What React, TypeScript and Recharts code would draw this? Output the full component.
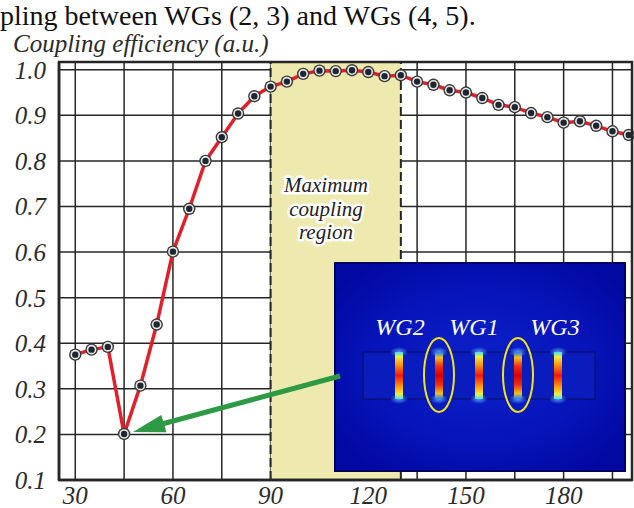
import {
  LineChart,
  Line,
  XAxis,
  YAxis,
  CartesianGrid,
  ReferenceArea,
  ReferenceLine,
} from "recharts";

// gap (nm) vs coupling efficiency
const gaps = [
  30, 35, 40, 45, 50, 55, 60, 65, 70, 75, 80, 85, 90, 95, 100, 105, 110, 115,
  120, 125, 130, 135, 140, 145, 150, 155, 160, 165, 170, 175, 180, 185, 190,
  195, 200,
];
const efficiency = [
  0.375, 0.386, 0.392, 0.201, 0.307, 0.441, 0.601, 0.695, 0.8, 0.852, 0.904,
  0.942, 0.963, 0.974, 0.991, 0.998, 0.997, 0.999, 0.995, 0.986, 0.988, 0.974,
  0.967, 0.955, 0.95, 0.938, 0.923, 0.918, 0.905, 0.896, 0.884, 0.887, 0.877,
  0.865, 0.857,
];
const xTicks = [30, 45, 60, 75, 90, 105, 120, 135, 150, 165, 180, 195];
const yTicks = [0.1, 0.2, 0.3, 0.4, 0.5, 0.6, 0.7, 0.8, 0.9, 1.0];
const maxRegion = [90, 130];
const waveguides = ["WG2", "WG1", "WG3"];
const regionLabel = ["Maximum", "coupling", "region"];

const data = gaps.map((g, i) => ({ gap: g, eff: efficiency[i] }));

const serif = "'Liberation Serif', 'DejaVu Serif', serif";
const ink = "#262626";

const tickStyle = {
  fontFamily: serif,
  fontSize: 25,
  fontStyle: "italic",
  fill: "#2b2b2b",
};

function Marker(props: any) {
  const { cx, cy, index } = props;
  if (cx == null || cy == null) return null;
  return (
    <g key={`m-${index}`}>
      <circle cx={cx} cy={cy} r={6.2} fill="#3a3a3a" />
      <circle cx={cx} cy={cy} r={4.8} fill="#e8e8e8" />
      <circle cx={cx} cy={cy} r={3.2} fill="#1e2630" />
    </g>
  );
}

function Inset() {
  const bars = [399, 439, 479, 518, 558];
  const labelX = [400, 474, 555];
  return (
    <g>
      <defs>
        <radialGradient id="bg" cx="50%" cy="50%" r="62%">
          <stop offset="0%" stopColor="#0c22cc" />
          <stop offset="60%" stopColor="#0614b8" />
          <stop offset="100%" stopColor="#0208a2" />
        </radialGradient>
        <linearGradient id="field" x1="0" y1="0" x2="0" y2="1">
          <stop offset="0%" stopColor="#40e0ff" />
          <stop offset="10%" stopColor="#e8f040" />
          <stop offset="25%" stopColor="#ffa010" />
          <stop offset="50%" stopColor="#f01808" />
          <stop offset="75%" stopColor="#ffa010" />
          <stop offset="90%" stopColor="#e8f040" />
          <stop offset="100%" stopColor="#40e0ff" />
        </linearGradient>
        <linearGradient id="fieldHot" x1="0" y1="0" x2="0" y2="1">
          <stop offset="0%" stopColor="#2080ff" />
          <stop offset="12%" stopColor="#f0c020" />
          <stop offset="30%" stopColor="#f03010" />
          <stop offset="50%" stopColor="#d80000" />
          <stop offset="70%" stopColor="#f03010" />
          <stop offset="88%" stopColor="#f0c020" />
          <stop offset="100%" stopColor="#2080ff" />
        </linearGradient>
        <radialGradient id="glow" cx="50%" cy="50%" r="50%">
          <stop offset="0%" stopColor="#5aa8ff" stopOpacity={0.9} />
          <stop offset="100%" stopColor="#5aa8ff" stopOpacity={0} />
        </radialGradient>
      </defs>
      <rect x={335} y={263} width={290} height={208} fill="url(#bg)" stroke="#00005c" strokeWidth={2} />
      <rect x={363} y={352} width={232} height={47} fill="#0a1cbc" stroke="#08105a" strokeWidth={1} />
      {bars.map((bx, i) => (
        <g key={bx}>
          <ellipse cx={bx} cy={352} rx={9} ry={5} fill="url(#glow)" />
          <ellipse cx={bx} cy={399} rx={9} ry={5} fill="url(#glow)" />
          <rect
            x={bx - 4}
            y={352}
            width={8}
            height={47}
            fill={i === 1 || i === 3 ? "url(#fieldHot)" : "url(#field)"}
          />
        </g>
      ))}
      <ellipse cx={439} cy={375} rx={15} ry={37} fill="none" stroke="#f2e21c" strokeWidth={2} />
      <ellipse cx={518} cy={375} rx={15} ry={37} fill="none" stroke="#f2e21c" strokeWidth={2} />
      {waveguides.map((t, i) => (
        <text
          key={t}
          x={labelX[i]}
          y={335}
          textAnchor="middle"
          fontFamily={serif}
          fontSize={24}
          fontStyle="italic"
          fill="#ffffff"
        >
          {t}
        </text>
      ))}
    </g>
  );
}

function Overlay() {
  return (
    <svg
      width={634}
      height={508}
      style={{ position: "absolute", left: 0, top: 0, pointerEvents: "none" }}
    >
      <text x={0} y={25} fontFamily={serif} fontSize={28} fill="#111">
        pling between WGs (2, 3) and WGs (4, 5).
      </text>
      <text x={13} y={52} fontFamily={serif} fontSize={25} fontStyle="italic" fill="#2b2b2b">
        Coupling efficiency (a.u.)
      </text>
      <rect x={59} y={62} width={573} height={418} fill="none" stroke={ink} strokeWidth={2.5} />
      <g
        fontFamily={serif}
        fontSize={21}
        fontStyle="italic"
        fill="#222"
        textAnchor="middle"
        stroke="#ffffff"
        strokeWidth={5}
        strokeLinejoin="round"
        style={{ paintOrder: "stroke" }}
      >
        {regionLabel.map((t, i) => (
          <text key={t} x={326} y={192 + i * 23.5}>
            {t}
          </text>
        ))}
      </g>
      <Inset />
      <line x1={340} y1={376} x2={162} y2={424} stroke="#2e9a45" strokeWidth={5} />
      <polygon points="133,432 166.5,432.3 161.3,414.9" fill="#2e9a45" />
    </svg>
  );
}

export default function App() {
  return (
    <div style={{ position: "absolute", left: 0, top: 0, width: 634, height: 508, background: "#fff" }}>
      <LineChart
        width={634}
        height={508}
        data={data}
        margin={{ top: 62, right: 2, bottom: 0, left: 0 }}
      >
        <ReferenceArea
          x1={maxRegion[0]}
          x2={maxRegion[1]}
          fill="#eee9ae"
          fillOpacity={1}
          stroke="none"
        />
        <CartesianGrid stroke={ink} strokeWidth={1.5} fill="none" />
        <ReferenceLine x={maxRegion[0]} stroke={ink} strokeWidth={2} strokeDasharray="9 4" />
        <ReferenceLine x={maxRegion[1]} stroke={ink} strokeWidth={2} strokeDasharray="9 4" />
        <XAxis
          dataKey="gap"
          type="number"
          domain={[25, 201]}
          ticks={xTicks}
          tickFormatter={(v) => (v % 30 === 0 ? String(v) : "")}
          tick={tickStyle}
          tickLine={false}
          tickSize={0}
          tickMargin={6}
          axisLine={{ stroke: ink, strokeWidth: 2.5 }}
          height={28}
          interval={0}
        />
        <YAxis
          type="number"
          domain={[0.1, 1.017]}
          ticks={yTicks}
          tickFormatter={(v) => v.toFixed(1)}
          tick={tickStyle}
          tickLine={false}
          tickSize={0}
          tickMargin={13}
          axisLine={{ stroke: ink, strokeWidth: 2.5 }}
          width={59}
          interval={0}
          allowDataOverflow
        />
        <Line
          dataKey="eff"
          type="linear"
          stroke="#e3202a"
          strokeWidth={3.5}
          dot={<Marker />}
          activeDot={false}
          isAnimationActive={false}
        />
      </LineChart>
      <Overlay />
    </div>
  );
}
